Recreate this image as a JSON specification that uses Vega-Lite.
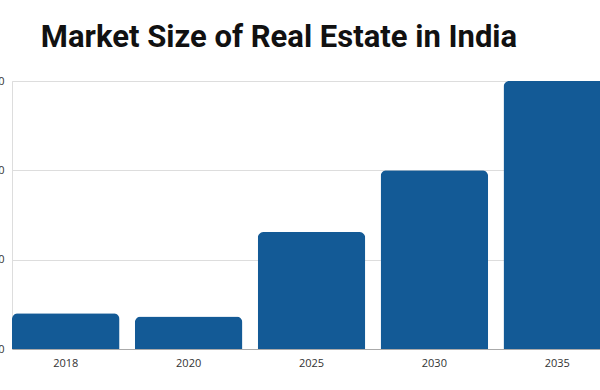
{
  "$schema": "https://vega.github.io/schema/vega-lite/v6.json",
  "autosize": {"type": "none"},
  "width": 588,
  "height": 268,
  "padding": {"left": 12, "top": 81, "right": 0, "bottom": 41},
  "background": "white",
  "title": {
    "text": "Market Size of Real Estate in India",
    "font": "Roboto",
    "fontWeight": "bold",
    "fontSize": 31,
    "color": "#111111",
    "anchor": "middle",
    "dx": -27,
    "offset": -3,
    "baseline": "alphabetic"
  },
  "data": {
    "values": [
      {"year": "2018", "size": 200},
      {"year": "2020", "size": 182},
      {"year": "2025", "size": 655},
      {"year": "2030", "size": 1000},
      {"year": "2035", "size": 1500}
    ]
  },
  "mark": {"type": "bar", "color": "#135A96", "cornerRadiusTopLeft": 6, "cornerRadiusTopRight": 6},
  "encoding": {
    "x": {
      "field": "year",
      "type": "ordinal",
      "scale": {"range": [0, 599], "paddingInner": 0.125, "paddingOuter": 0},
      "axis": {
        "title": null,
        "labelAngle": 0,
        "ticks": false,
        "domainColor": "#aaaaaa",
        "labelFont": "Open Sans",
        "labelFontSize": 11,
        "labelColor": "#333333",
        "labelPadding": 8
      }
    },
    "y": {
      "field": "size",
      "type": "quantitative",
      "scale": {"domain": [0, 1500], "nice": false},
      "axis": {
        "title": null,
        "values": [0, 500, 1000, 1500],
        "domain": false,
        "ticks": false,
        "gridColor": "#dddddd",
        "labelFont": "Open Sans",
        "labelFontSize": 11,
        "labelColor": "#333333",
        "labelPadding": 8
      }
    }
  }
}
